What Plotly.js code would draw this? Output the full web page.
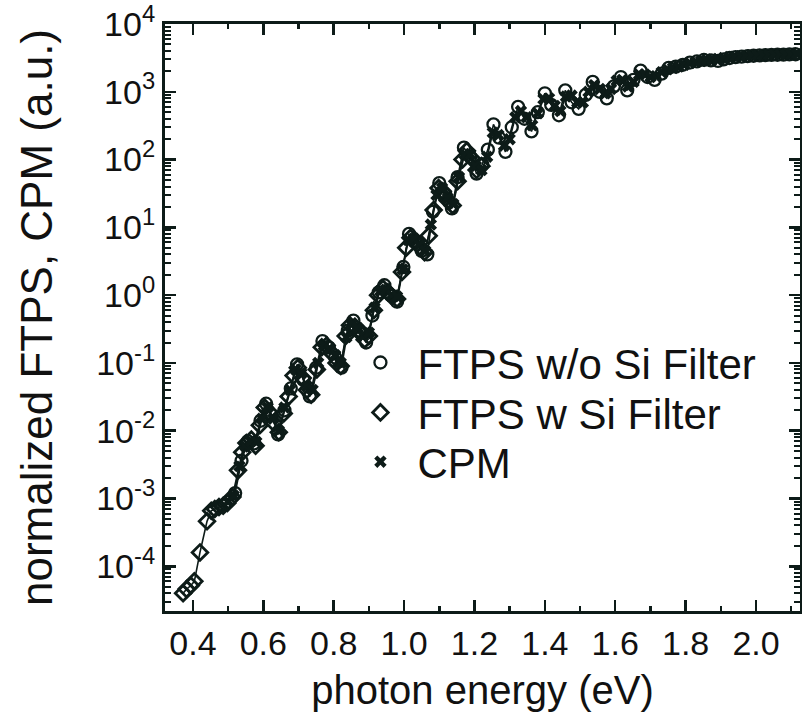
<!DOCTYPE html>
<html>
<head>
<meta charset="utf-8">
<script src="https://cdn.plot.ly/plotly-3.0.1.min.js"></script>
<style>html,body{margin:0;padding:0;background:#fff;}#chart{width:802px;height:716px;}</style>
</head>
<body>
<div id="chart"></div>
<script>
// FTPS w/o Si Filter (open circles)
var circX = [0.520,0.538,0.556,0.574,0.592,0.608,0.624,0.642,0.660,0.678,0.696,0.714,0.732,0.750,0.768,0.786,0.804,0.822,0.840,0.856,0.874,0.892,0.910,0.928,0.944,0.962,0.980,0.998,1.014,1.032,1.050,1.066,1.082,1.100,1.118,1.136,1.152,1.170,1.188,1.206,1.222,1.238,1.254,1.270,1.288,1.306,1.324,1.342,1.362,1.380,1.400,1.418,1.440,1.458,1.476,1.496,1.516,1.536,1.556,1.576,1.596,1.616,1.634,1.652,1.672,1.692,1.712,1.732,1.752,1.772,1.792,1.812,1.832,1.852,1.872,1.892,1.908,1.925,1.942,1.959,1.976,1.993,2.010,2.027,2.044,2.061,2.078,2.095,2.112];
var circY = [1.2e-3,3.6e-3,7.0e-3,6.5e-3,1.4e-2,2.5e-2,1.7e-2,8.8e-3,2.0e-2,4.2e-2,9.5e-2,5.6e-2,3.2e-2,8.5e-2,0.21,0.17,0.12,0.085,0.30,0.42,0.30,0.20,0.50,1.1,1.4,1.0,0.80,2.6,8.0,6.2,4.5,4.0,17,45,30,19,55,150,110,62,85,140,330,210,130,300,600,400,260,500,950,640,450,1050,700,560,900,1400,1000,800,1200,1650,1050,1500,2050,1650,1500,1850,2250,2350,2500,2700,2800,2950,2900,2850,3000,3150,3250,3300,3350,3400,3450,3480,3500,3520,3540,3560,3580];

// FTPS w Si Filter (open diamonds)
var diamX = [0.372,0.382,0.394,0.404,0.420,0.440,0.452,0.462,0.474,0.486,0.498,0.512,0.528,0.540,0.552,0.566,0.578,0.590,0.604,0.616,0.630,0.644,0.658,0.672,0.686,0.698,0.712,0.724,0.736,0.752,0.766,0.780,0.794,0.808,0.820,0.834,0.846,0.860,0.874,0.888,0.900,0.914,0.926,0.940,0.954,0.966,0.980,0.994,1.006,1.018,1.030,1.044,1.058,1.070,1.084,1.098,1.110,1.124,1.138,1.152,1.166,1.178,1.192,1.206,1.220];
var diamY = [4.0e-5,4.6e-5,5.2e-5,6.0e-5,1.6e-4,4.6e-4,6.6e-4,7.0e-4,7.5e-4,7.8e-4,8.6e-4,1.05e-3,2.6e-3,4.8e-3,6.6e-3,7.4e-3,6.0e-3,1.2e-2,2.2e-2,1.9e-2,1.3e-2,9.5e-3,1.8e-2,3.2e-2,6.5e-2,8.5e-2,6.0e-2,4.0e-2,3.4e-2,8.0e-2,0.17,0.18,0.14,0.10,0.090,0.25,0.36,0.34,0.28,0.22,0.25,0.60,1.0,1.25,1.1,0.95,0.88,2.2,5.0,7.0,6.5,5.2,4.3,7.5,18,38,34,25,21,48,100,135,105,70,80];

// CPM (crosses)
var cpmX = [0.500,0.516,0.532,0.548,0.564,0.580,0.596,0.612,0.628,0.644,0.660,0.676,0.692,0.708,0.724,0.740,0.756,0.772,0.788,0.804,0.820,0.836,0.852,0.868,0.884,0.900,0.916,0.932,0.948,0.964,0.980,0.996,1.012,1.028,1.044,1.060,1.076,1.092,1.108,1.124,1.140,1.156,1.172,1.188,1.204,1.220,1.236,1.252,1.268,1.284,1.300,1.316,1.332,1.348,1.364,1.380,1.396,1.412,1.428,1.444,1.460,1.476,1.492,1.508,1.524,1.540,1.556,1.572,1.588,1.604,1.620,1.636,1.652,1.668,1.684,1.700,1.716,1.732,1.748,1.764,1.780,1.796,1.812,1.828,1.844,1.860,1.876,1.892,1.908,1.924,1.940,1.956,1.972,1.988,2.004,2.020,2.036,2.052,2.068,2.084,2.100,2.116];
var cpmY = [9.0e-4,1.1e-3,3.0e-3,6.0e-3,7.0e-3,6.8e-3,1.5e-2,2.2e-2,1.5e-2,1.0e-2,2.2e-2,4.0e-2,8.0e-2,7.0e-2,4.5e-2,4.0e-2,0.10,0.18,0.16,0.13,0.10,0.24,0.38,0.33,0.25,0.28,0.65,1.15,1.2,1.0,0.95,2.4,6.5,6.8,5.5,4.5,11,30,38,27,22,55,120,120,80,70,110,250,230,160,200,420,520,420,320,480,780,800,620,520,850,880,700,700,1000,1250,1100,950,1100,1450,1500,1200,1400,1800,1800,1650,1700,1950,2150,2250,2350,2500,2650,2750,2850,2950,3000,3050,3150,3250,3300,3350,3400,3450,3450,3500,3500,3550,3550,3550,3600,3600];

var seriesNames = ['FTPS w/o Si Filter', 'FTPS w Si Filter', 'CPM'];
var yTickVals = [1e-4,1e-3,1e-2,1e-1,1,10,100,1000,10000];
var yTickText = ['10<sup>-4</sup>','10<sup>-3</sup>','10<sup>-2</sup>','10<sup>-1</sup>','10<sup>0</sup>','10<sup>1</sup>','10<sup>2</sup>','10<sup>3</sup>','10<sup>4</sup>'];

var ink = '#0d1b18';
var lineStyle = {color: ink, width: 1.6};

var traces = [
  {x: diamX, y: diamY, mode: 'lines', line: lineStyle, showlegend: false, hoverinfo: 'skip'},
  {x: circX, y: circY, mode: 'lines', line: lineStyle, showlegend: false, hoverinfo: 'skip'},
  {x: cpmX, y: cpmY, mode: 'lines', line: lineStyle, showlegend: false, hoverinfo: 'skip'},
  {x: circX, y: circY, mode: 'markers', name: seriesNames[0], legend: 'legend',
   marker: {symbol: 'circle-open', size: 12, color: ink, line: {color: ink, width: 2.3}}},
  {x: diamX, y: diamY, mode: 'markers', name: seriesNames[1], legend: 'legend2',
   marker: {symbol: 'diamond-open', size: 12, color: ink, line: {color: ink, width: 2.8}}},
  {x: cpmX, y: cpmY, mode: 'markers', name: seriesNames[2], legend: 'legend3',
   marker: {symbol: 'x', size: 11, color: ink, line: {width: 0}}}
];

var fontFam = '"Liberation Sans", Arial, Helvetica, sans-serif';
var legFont = {family: fontFam, size: 42, color: '#111111'};
function leg(y) {
  return {x: 0.281, y: y, xanchor: 'left', yanchor: 'middle', bgcolor: 'rgba(255,255,255,0)',
          borderwidth: 0, font: legFont, itemwidth: 64};
}

var layout = {
  width: 802, height: 716,
  margin: {l: 165, r: 2, t: 24, b: 105, pad: 0},
  paper_bgcolor: '#ffffff', plot_bgcolor: '#ffffff',
  font: {family: fontFam, color: '#111111'},
  showlegend: true,
  legend: leg(0.423),
  legend2: leg(0.338),
  legend3: leg(0.254),
  xaxis: {
    range: [0.3206, 2.125],
    tick0: 0.4, dtick: 0.2, tickformat: '.1f',
    ticks: 'inside', ticklen: 11, tickwidth: 2.5, tickcolor: ink,
    minor: {dtick: 0.1, ticks: 'inside', ticklen: 5, tickwidth: 2.5, tickcolor: ink, showgrid: false},
    showline: true, linewidth: 3, linecolor: ink, mirror: 'ticks',
    showgrid: false, zeroline: false,
    tickfont: {family: fontFam, size: 34, color: '#111111'},
    title: {text: 'photon energy (eV)', font: {family: fontFam, size: 40, color: '#111111'}, standoff: 16}
  },
  yaxis: {
    type: 'log',
    range: [-4.66, 4],
    tickvals: yTickVals, ticktext: yTickText,
    ticklabeloverflow: 'allow',
    ticks: 'inside', ticklen: 11, tickwidth: 2.5, tickcolor: ink,
    minor: {dtick: 'D1', ticks: 'inside', ticklen: 6, tickwidth: 2, tickcolor: ink, showgrid: false},
    showline: true, linewidth: 3, linecolor: ink, mirror: 'ticks',
    showgrid: false, zeroline: false,
    tickfont: {family: fontFam, size: 34, color: '#111111'},
    title: {text: 'normalized FTPS, CPM (a.u.)', font: {family: fontFam, size: 44, color: '#111111'}, standoff: 30}
  }
};

Plotly.newPlot('chart', traces, layout, {staticPlot: true, displayModeBar: false});
</script>
</body>
</html>
